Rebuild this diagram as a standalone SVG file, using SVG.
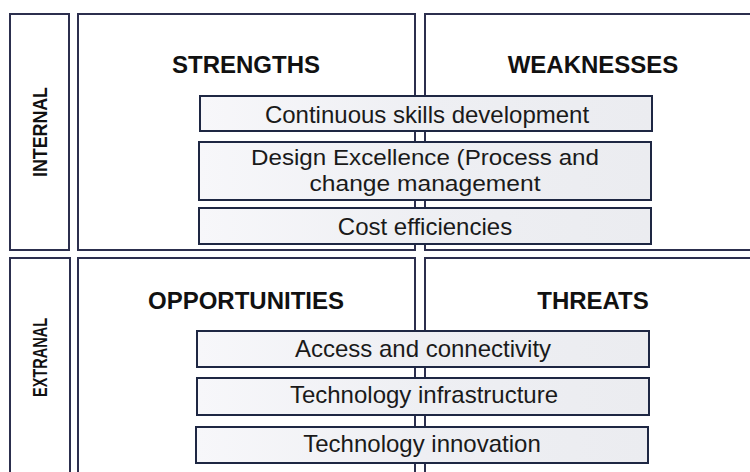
<svg xmlns="http://www.w3.org/2000/svg" width="750" height="472" viewBox="0 0 750 472">
  <defs>
    <linearGradient id="boxfill" x1="0" y1="0" x2="1" y2="0">
      <stop offset="0" stop-color="#f7f7fa"/>
      <stop offset="0.5" stop-color="#eeeff3"/>
      <stop offset="1" stop-color="#ebecf0"/>
    </linearGradient>
  </defs>
  <style>
    .panel { fill: #ffffff; stroke: #2c2f4e; stroke-width: 2; }
    .item { fill: url(#boxfill); stroke: #1e2743; stroke-width: 2; }
    .head { font-family: "Liberation Sans", Arial, sans-serif; font-weight: bold; font-size: 24px; fill: #111111; text-anchor: middle; }
    .side { font-family: "Liberation Sans", Arial, sans-serif; font-weight: bold; font-size: 21px; fill: #111111; text-anchor: middle; }
    .txt { font-family: "Liberation Sans", Arial, sans-serif; font-size: 24px; fill: #1a1a1a; text-anchor: middle; }
    .txt2 { font-family: "Liberation Sans", Arial, sans-serif; font-size: 21.5px; fill: #1a1a1a; text-anchor: middle; }
  </style>
  <rect width="750" height="472" fill="#ffffff"/>

  <g id="internal">
    <rect class="panel" x="10" y="14" width="59" height="236"/>
    <text class="side" transform="translate(47,132) rotate(-90)" textLength="90" lengthAdjust="spacingAndGlyphs">INTERNAL</text>
  </g>
  <g id="strengths">
    <rect class="panel" x="78" y="14" width="337" height="236"/>
    <text class="head" x="246" y="73">STRENGTHS</text>
  </g>
  <g id="weaknesses">
    <rect class="panel" x="425" y="14" width="340" height="236"/>
    <text class="head" x="593" y="73">WEAKNESSES</text>
  </g>

  <g id="extranal">
    <rect class="panel" x="10" y="258" width="60" height="230"/>
    <text class="side" transform="translate(47,357.5) rotate(-90)" textLength="79" lengthAdjust="spacingAndGlyphs">EXTRANAL</text>
  </g>
  <g id="opportunities">
    <rect class="panel" x="78" y="258" width="337" height="230"/>
    <text class="head" x="246" y="309">OPPORTUNITIES</text>
  </g>
  <g id="threats">
    <rect class="panel" x="425" y="258" width="340" height="230"/>
    <text class="head" x="593" y="309">THREATS</text>
  </g>

  <g id="skills">
    <rect class="item" x="200" y="96" width="452" height="35"/>
    <text class="txt" x="427" y="123">Continuous skills development</text>
  </g>
  <g id="design">
    <rect class="item" x="199" y="142" width="452" height="58"/>
    <text class="txt2" x="425" y="165" textLength="348" lengthAdjust="spacingAndGlyphs">Design Excellence (Process and</text>
    <text class="txt2" x="425" y="191" textLength="231" lengthAdjust="spacingAndGlyphs">change management</text>
  </g>
  <g id="cost">
    <rect class="item" x="199" y="208" width="452" height="36"/>
    <text class="txt" x="425" y="235">Cost efficiencies</text>
  </g>

  <g id="access">
    <rect class="item" x="197" y="331" width="452" height="36"/>
    <text class="txt" x="423" y="357">Access and connectivity</text>
  </g>
  <g id="infrastructure">
    <rect class="item" x="197" y="378" width="452" height="37"/>
    <text class="txt" x="424" y="403">Technology infrastructure</text>
  </g>
  <g id="innovation">
    <rect class="item" x="196" y="427" width="452" height="36"/>
    <text class="txt" x="422" y="452">Technology innovation</text>
  </g>
</svg>
